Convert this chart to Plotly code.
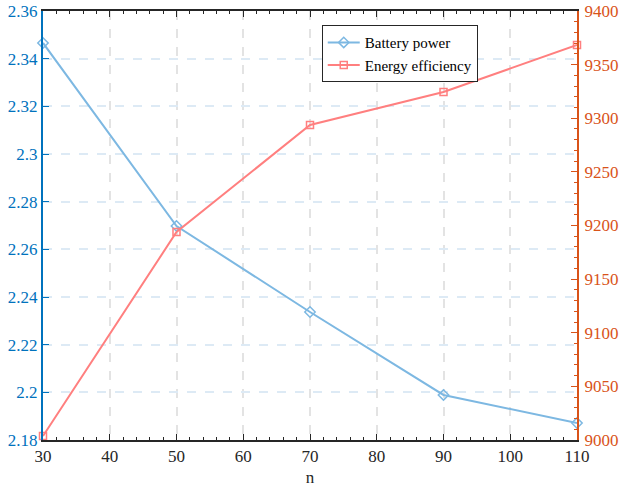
import plotly.graph_objects as go

n_values = [30, 50, 70, 90, 110]
battery_power = [2.3466, 2.2698, 2.2337, 2.1989, 2.1871]
energy_efficiency = [9003.7, 9193.9, 9293.7, 9324.5, 9368.3]

left_ticks = [2.18, 2.2, 2.22, 2.24, 2.26, 2.28, 2.3, 2.32, 2.34, 2.36]
left_tick_text = ["2.18", "2.2", "2.22", "2.24", "2.26", "2.28", "2.3", "2.32", "2.34", "2.36"]
right_ticks = [9000, 9050, 9100, 9150, 9200, 9250, 9300, 9350, 9400]
x_ticks = [30, 40, 50, 60, 70, 80, 90, 100, 110]

blue_line = "#7DB8E2"
red_line = "#FF7F7F"
blue_axis = "#0072BD"
orange_axis = "#D95319"
ff = "Liberation Serif, Times New Roman, serif"

fig = go.Figure()
fig.add_trace(go.Scatter(
    x=n_values, y=battery_power, name="Battery power", mode="lines+markers",
    line=dict(color=blue_line, width=2),
    marker=dict(symbol="diamond-open", size=8, color=blue_line, line=dict(width=1.5)),
    yaxis="y", cliponaxis=False))
fig.add_trace(go.Scatter(
    x=n_values, y=energy_efficiency, name="Energy efficiency", mode="lines+markers",
    line=dict(color=red_line, width=2),
    marker=dict(symbol="square-open", size=7, color=red_line, line=dict(width=1.5)),
    yaxis="y2", cliponaxis=False))

fig.update_layout(
    width=620, height=487,
    margin=dict(l=43, r=43, t=11, b=47),
    paper_bgcolor="white", plot_bgcolor="white",
    font=dict(family=ff, size=17, color="#262626"),
    showlegend=True,
    legend=dict(x=0.522, y=0.967, xanchor="left", yanchor="top",
                bgcolor="white", bordercolor="#262626", borderwidth=1,
                font=dict(family=ff, size=15, color="black"),
                tracegroupgap=0, itemwidth=32),
    xaxis=dict(range=[30, 110], tickvals=x_ticks, ticks="inside", ticklen=6,
               tickcolor="#262626", showline=True, linecolor="#262626", linewidth=1.5,
               mirror="ticks", showgrid=True, gridcolor="#E3E3E3", griddash="dash",
               gridwidth=1.5, zeroline=False, automargin=False,
               minor=dict(ticks="inside", ticklen=3, dtick=2, tickcolor="#262626", showgrid=False),
               title=dict(text="n", font=dict(family=ff, size=17, color="#262626"), standoff=7),
               tickfont=dict(family=ff, size=17, color="#262626")),
    yaxis=dict(range=[2.18, 2.36], tickvals=left_ticks, ticktext=left_tick_text,
               ticks="inside", ticklen=6, tickcolor=blue_axis, showline=True,
               linecolor=blue_axis, linewidth=2, showgrid=True, gridcolor="#DDEAF5",
               griddash="dash", gridwidth=1.5, zeroline=False, automargin=False,
               ticklabelstandoff=0,
               tickfont=dict(family=ff, size=17, color=blue_axis)),
    yaxis2=dict(range=[9000, 9400], tickvals=right_ticks, overlaying="y", side="right",
                ticks="inside", ticklen=6, tickcolor=orange_axis, showline=True,
                linecolor=orange_axis, linewidth=2, showgrid=False, zeroline=False,
                automargin=False, ticklabelstandoff=2,
                minor=dict(ticks="inside", ticklen=3, dtick=10, tickcolor=orange_axis, showgrid=False),
                tickfont=dict(family=ff, size=17, color=orange_axis)),
)

fig.write_html("out.html", config={"displayModeBar": False},
               post_script="document.body.style.margin='0px';")
